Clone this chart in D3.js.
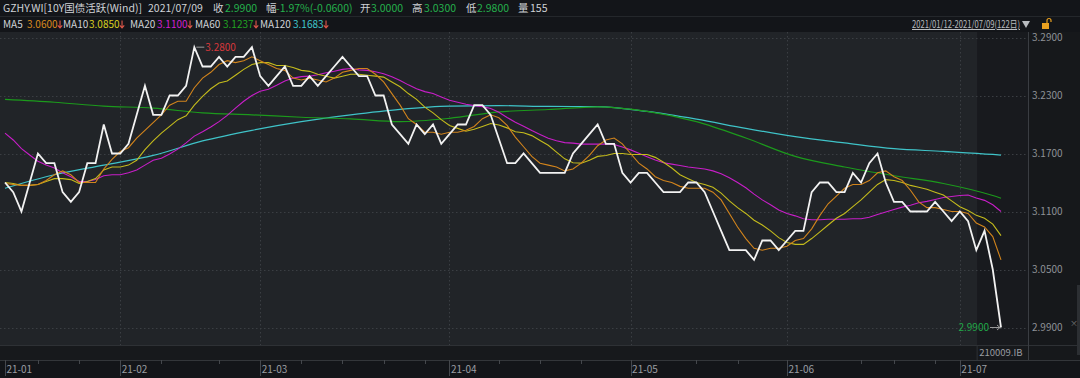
<!DOCTYPE html>
<html><head><meta charset="utf-8">
<script src="https://cdn.jsdelivr.net/npm/d3@7"></script>
<style>
html,body{margin:0;padding:0;background:#131519;overflow:hidden}
svg{display:block}
text{font-family:"Noto Sans CJK SC","Noto Sans",sans-serif}
</style></head>
<body>
<svg id="c" width="1080" height="378"></svg>
<script>
// ---------- DATA ----------
const closes = [3.14,3.13,3.11,3.14,3.17,3.16,3.16,3.13,3.12,3.13,
3.16,3.16,3.20,3.17,3.17,3.18,3.21,3.24,3.21,3.21,
3.23,3.23,3.24,3.28,3.26,3.26,3.27,3.26,3.27,3.27,
3.28,3.25,3.24,3.25,3.26,3.24,3.24,3.25,3.24,3.25,
3.26,3.27,3.26,3.25,3.25,3.23,3.23,3.20,3.19,3.18,
3.20,3.19,3.20,3.18,3.19,3.20,3.20,3.22,3.22,3.21,
3.185,3.16,3.16,3.17,3.16,3.15,3.15,3.15,3.15,3.17,
3.18,3.19,3.20,3.18,3.18,3.15,3.14,3.15,3.15,3.14,
3.13,3.13,3.13,3.14,3.14,3.13,3.11,3.09,3.07,3.07,
3.07,3.06,3.08,3.08,3.07,3.08,3.09,3.09,3.13,3.14,
3.14,3.13,3.13,3.15,3.14,3.16,3.17,3.14,3.12,3.12,
3.11,3.11,3.11,3.12,3.11,3.10,3.11,3.10,3.07,3.09,
3.05,2.99];
// MA values before enough closes are visible
const ma5Head  = [3.139,3.138,3.137,3.137];
const ma10Head = [3.140,3.139,3.137,3.137,3.138,3.141,3.144,3.144,3.143];
const ma20Head = [3.191,3.184,3.175,3.1685,3.162,3.158,3.155,3.150,3.146,3.141,
                  3.141,3.143,3.147,3.148,3.148,3.150,3.153,3.158,3.163];
// long MAs read at sample points
const maSampleIdx = [0,6,12,18,24,30,36,42,48,54,60,66,72,78,84,90,96,102,108,114,120,121];
const ma60Vals  = [3.226,3.223,3.219,3.217,3.212,3.210,3.2075,3.2058,3.203,3.2064,3.213,3.2155,
                   3.2183,3.2136,3.203,3.186,3.167,3.156,3.147,3.139,3.1265,3.1237];
const ma120Vals = [3.134,3.148,3.158,3.168,3.183,3.194,3.203,3.210,3.2157,3.219,3.2195,3.2187,
                   3.2185,3.2135,3.2055,3.196,3.1875,3.181,3.175,3.1722,3.169,3.1683];
const yTicks = [3.29,3.23,3.17,3.11,3.05,2.99];
const monthIdx = [0,14,31,54,76,95,116];
const monthLabels = ["21-01","21-02","21-03","21-04","21-05","21-06","21-07"];
const minorIdx = [4,9,19,26,36,41,46,51,60,65,70,84,89,104,108,113];
const quoteOpen = 3.00, quoteHigh = 3.03, quoteLow = 2.98, quoteVol = 155;
const prevClose = closes[closes.length-2];

// ---------- SETUP ----------
const svg = d3.select("#c");
const x = d3.scaleLinear().domain([0, closes.length-1]).range([5, 1001]);
const y = d3.scaleLinear().domain([2.99, 3.29]).range([327.5, 37.5]);
const plotR = 1028, plotT = 32, plotB = 345;

const ma = (n, head) => closes.map((_, i) => i < n-1 ? head[i] : d3.mean(closes.slice(i-n+1, i+1)));
const ma5 = ma(5, ma5Head), ma10 = ma(10, ma10Head), ma20 = ma(20, ma20Head);

// backgrounds
svg.append("rect").attr("x",0).attr("y",0).attr("width",1080).attr("height",378).attr("fill","#131519");
svg.append("rect").attr("x",0).attr("y",plotT).attr("width",plotR).attr("height",plotB-plotT).attr("fill","#212428");
svg.append("rect").attr("x",x(118.1)).attr("y",plotT).attr("width",plotR-x(118.1)).attr("height",plotB-plotT).attr("fill","#181a1e");
svg.append("rect").attr("x",plotR).attr("y",plotT).attr("width",1080-plotR).attr("height",plotB-plotT+15).attr("fill","#16181b");
svg.append("rect").attr("x",0).attr("y",plotB).attr("width",plotR).attr("height",15).attr("fill","#17191c");
svg.append("line").attr("x1",0).attr("x2",1080).attr("y1",16.5).attr("y2",16.5).attr("stroke","#24272b");
svg.append("line").attr("x1",0).attr("x2",1080).attr("y1",plotB+0.5).attr("y2",plotB+0.5).attr("stroke","#2e3135");
svg.append("line").attr("x1",0).attr("x2",1080).attr("y1",360.5).attr("y2",360.5).attr("stroke","#33363a");
svg.append("line").attr("x1",x(118.1)).attr("x2",x(118.1)).attr("y1",plotB).attr("y2",360).attr("stroke","#2e3135");
svg.append("line").attr("x1",plotR+0.5).attr("x2",plotR+0.5).attr("y1",plotT).attr("y2",360).attr("stroke","#3a3d42");
svg.append("rect").attr("x",1077).attr("y",285).attr("width",3).attr("height",70).attr("fill","#2c2f33");
svg.append("text").attr("x",1070).attr("y",326).attr("fill","#777").attr("font-size",8).text("×");

// grid
const grid = svg.append("g");
grid.selectAll("line.h").data(yTicks).join("line")
  .attr("x1",0).attr("x2",plotR).attr("y1",d=>Math.round(y(d))+0.5).attr("y2",d=>Math.round(y(d))+0.5)
  .attr("stroke","#3b3e43").attr("stroke-dasharray","1.5,2.5");
grid.selectAll("line.v").data(monthIdx.slice(1)).join("line")
  .attr("x1",d=>Math.round(x(d))+0.5).attr("x2",d=>Math.round(x(d))+0.5).attr("y1",plotT).attr("y2",plotB)
  .attr("stroke","#3b3e43").attr("stroke-dasharray","1.5,2.5");

// right axis
const ya = svg.append("g").attr("transform",`translate(${plotR},0)`)
  .call(d3.axisRight(y).tickValues(yTicks).tickFormat(d3.format(".4f")).tickSize(0).tickPadding(4));
ya.select(".domain").remove();
ya.selectAll("text").attr("fill","#8e9196").attr("font-size",10).attr("font-family","'Noto Sans CJK SC',sans-serif");

// bottom axis
const xa = svg.append("g").attr("transform","translate(0,360)");
xa.selectAll("line.maj").data(monthIdx).join("line")
  .attr("x1",d=>Math.round(x(d))+0.5).attr("x2",d=>Math.round(x(d))+0.5).attr("y1",0).attr("y2",16)
  .attr("stroke","#44474c");
xa.selectAll("line.min").data(minorIdx).join("line")
  .attr("x1",d=>Math.round(x(d))+0.5).attr("x2",d=>Math.round(x(d))+0.5).attr("y1",0).attr("y2",4)
  .attr("stroke","#44474c");
xa.selectAll("text").data(monthIdx).join("text")
  .attr("x",d=>x(d)+1.5).attr("y",13).attr("fill","#9a9da2").attr("font-size",10)
  .text((d,i)=>monthLabels[i]);
svg.append("text").attr("x",x(118.1)+2).attr("y",356).attr("fill","#9a9da2").attr("font-size",9.5).text("210009.IB");

// lines
const lineIdx = d3.line().x((d,i)=>x(i)).y(d=>y(d));
const lineS = d3.line().x((d,i)=>x(maSampleIdx[i])).y(d=>y(d)).curve(d3.curveMonotoneX);
const gL = svg.append("g").attr("fill","none");
gL.append("path").attr("d",lineS(ma120Vals)).attr("stroke","#3fc3c8").attr("stroke-width",1.2);
gL.append("path").attr("d",lineS(ma60Vals)).attr("stroke","#1c9a1c").attr("stroke-width",1.2);
gL.append("path").attr("d",lineIdx(ma20)).attr("stroke","#c81ec8").attr("stroke-width",1.1);
gL.append("path").attr("d",lineIdx(ma10)).attr("stroke","#c4bb1c").attr("stroke-width",1.1);
gL.append("path").attr("d",lineIdx(ma5)).attr("stroke","#d2841c").attr("stroke-width",1.1);
gL.append("path").attr("d",lineIdx(closes)).attr("stroke","#f2f2f2").attr("stroke-width",1.8).attr("stroke-linejoin","miter");

// max label
const mi = d3.maxIndex(closes);
svg.append("line").attr("x1",x(mi)+2).attr("x2",x(mi)+10).attr("y1",y(closes[mi])).attr("y2",y(closes[mi])).attr("stroke","#9a9a9a");
svg.append("text").attr("x",x(mi)+11).attr("y",y(closes[mi])+3.5).attr("fill","#d8383c").attr("font-size",10).text(closes[mi].toFixed(4));
// last label
const li = closes.length-1;
svg.append("line").attr("x1",x(li)-11).attr("x2",x(li)-1).attr("y1",y(closes[li])).attr("y2",y(closes[li])).attr("stroke","#9a9a9a");
svg.append("path").attr("d",`M${x(li)-4},${y(closes[li])-2.5}L${x(li)-1},${y(closes[li])}L${x(li)-4},${y(closes[li])+2.5}`).attr("stroke","#9a9a9a").attr("fill","none");
svg.append("text").attr("x",x(li)-12).attr("y",y(closes[li])+3.5).attr("text-anchor","end").attr("fill","#21a849").attr("font-size",10).text(closes[li].toFixed(4));

// header row 1
const light = "#cfd2d6", green = "#25b04c";
const last = closes[li], chg = last - prevClose;
const row1 = [
  ["GZHY.WI[10Y国债活跃(Wind)]",3,light],["2021/07/09",148,light],
  ["收",213,light],[last.toFixed(4),225,green],
  ["幅",266,light],[`${(chg/prevClose*100).toFixed(2)}%(${chg.toFixed(4)})`,276,green],
  ["开",360,light],[quoteOpen.toFixed(4),371,green],
  ["高",412,light],[quoteHigh.toFixed(4),424,green],
  ["低",466,light],[quoteLow.toFixed(4),477,green],
  ["量",518,light],[String(quoteVol),530,light]];
svg.append("g").selectAll("text").data(row1).join("text")
  .attr("x",d=>d[1]).attr("y",12).attr("fill",d=>d[2]).attr("font-size",10.5).text(d=>d[0]);

// header row 2 legend
const legend = [["MA5",3,27,ma5[li],"#d98a1e"],["MA10",63,89,ma10[li],"#d8d020"],["MA20",130,157,ma20[li],"#d020d0"],
  ["MA60",195,223,ma60Vals[ma60Vals.length-1],"#22a322"],["MA120",260,293,ma120Vals[ma120Vals.length-1],"#40c6cc"]];
const lg = svg.append("g");
legend.forEach(d=>{
  lg.append("text").attr("x",d[1]).attr("y",28).attr("fill",light).attr("font-size",10).text(d[0]);
  const t = lg.append("text").attr("x",d[2]).attr("y",28).attr("font-size",10).attr("fill",d[4]).text(d[3].toFixed(4));
  const ax = d[2] + t.node().getComputedTextLength() + 2.5;
  lg.append("path").attr("d",`M${ax},20.5V28M${ax-2.2},25.3L${ax},28L${ax+2.2},25.3`)
    .attr("stroke","#e0584a").attr("fill","none").attr("stroke-width",1.1);
});
svg.append("text").attr("x",1020).attr("y",28).attr("text-anchor","end").attr("fill","#b8bbbf").attr("font-size",10)
  .attr("textLength",108).attr("lengthAdjust","spacingAndGlyphs")
  .attr("text-decoration","underline").text("2021/01/12-2021/07/09(122日)");
svg.append("path").attr("d","M1022,21L1030,21L1026,28Z").attr("fill","#b8bbbf");
svg.append("rect").attr("x",1042).attr("y",23).attr("width",7).attr("height",6).attr("fill","#e8a020");
svg.append("path").attr("d","M1047,23V20.5a2,2 0 0 1 4,0V22").attr("stroke","#e8a020").attr("fill","none").attr("stroke-width",1.2);
</script>
</body></html>
